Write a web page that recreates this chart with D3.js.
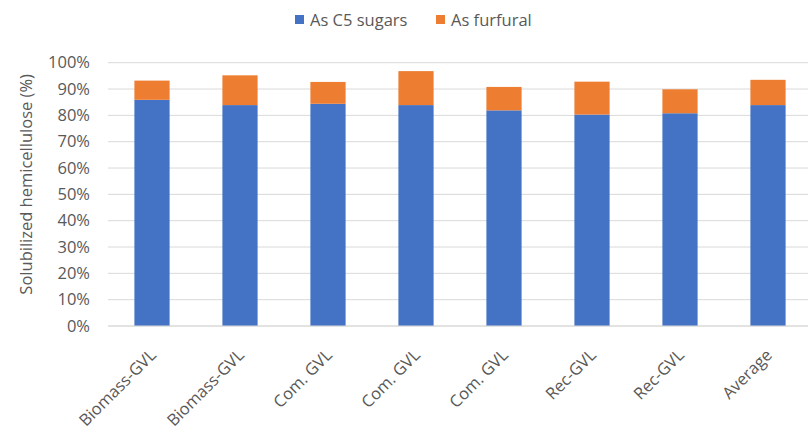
<!DOCTYPE html>
<html>
<head>
<meta charset="utf-8">
<script src="https://cdn.jsdelivr.net/npm/d3@7"></script>
<style>
  html, body { margin: 0; padding: 0; background: #fff; }
  text { font-family: "Open Sans", "Noto Sans", sans-serif; }
</style>
</head>
<body>
<svg id="chart" width="808" height="434"></svg>
<script>
const categories = ["Biomass-GVL", "Biomass-GVL", "Com. GVL", "Com. GVL", "Com. GVL", "Rec-GVL", "Rec-GVL", "Average"];
const c5Sugars = [85.9, 83.9, 84.4, 83.9, 81.9, 80.3, 80.8, 83.9];
const furfural = [7.3, 11.3, 8.3, 12.9, 8.9, 12.5, 9.1, 9.6];
const yTicks = [0, 10, 20, 30, 40, 50, 60, 70, 80, 90, 100];
const seriesNames = ["As C5 sugars", "As furfural"];
const colors = ["#4472C4", "#ED7D31"];

const svg = d3.select("#chart");
const margin = { left: 108, top: 62.7 };
const W = 808;
const plotBottom = 326;

const x = d3.scaleBand()
  .domain(d3.range(categories.length))
  .range([margin.left, margin.left + 88 * categories.length])
  .padding(0);

const y = d3.scaleLinear().domain([0, 100]).range([plotBottom, margin.top]);

// gridlines
svg.append("g").selectAll("line").data(yTicks).join("line")
  .attr("x1", margin.left).attr("x2", W)
  .attr("y1", d => y(d)).attr("y2", d => y(d))
  .attr("stroke", "#D9D9D9").attr("stroke-width", 1);

// y axis labels
const yAxis = d3.axisLeft(y).tickValues(yTicks).tickFormat(d => d + "%").tickSize(0).tickPadding(0);
const gy = svg.append("g").attr("transform", `translate(90,0)`).call(yAxis);
gy.select(".domain").remove();
gy.selectAll("text").attr("fill", "#595959").style("font-size", "16.5px").style("font-family", '"Open Sans", sans-serif');

// stacked data
const data = categories.map((c, i) => ({ i, c5: c5Sugars[i], furf: furfural[i] }));
const stack = d3.stack().keys(["c5", "furf"]);
const stacked = stack(data);

const barW = x.bandwidth() * 0.4;
svg.append("g").selectAll("g").data(stacked).join("g")
  .attr("fill", (d, k) => colors[k])
  .selectAll("rect").data(d => d).join("rect")
  .attr("x", d => x(d.data.i) + (x.bandwidth() - barW) / 2)
  .attr("width", barW)
  .attr("y", d => y(d[1]))
  .attr("height", d => y(d[0]) - y(d[1]));

// baseline
svg.append("line").attr("x1", margin.left).attr("x2", W)
  .attr("y1", plotBottom).attr("y2", plotBottom)
  .attr("stroke", "#D9D9D9").attr("stroke-width", 1);

// x labels
const xl = svg.append("g");
categories.forEach((c, i) => {
  const cx = x(i) + x.bandwidth() / 2;
  xl.append("text")
    .attr("transform", `translate(${cx + 1},${352}) rotate(-45)`)
    .attr("text-anchor", "end")
    .attr("dy", "0.35em")
    .attr("fill", "#595959")
    .style("font-size", "16.5px")
    .text(c);
});

// y axis title
svg.append("text")
  .attr("transform", `translate(32,${(y(0) + y(100)) / 2 - 10}) rotate(-90)`)
  .attr("text-anchor", "middle")
  .attr("fill", "#595959")
  .style("font-size", "16.5px")
  .text("Solubilized hemicellulose (%)");

// legend
const legendItems = [
  { name: seriesNames[0], color: colors[0], x: 295 },
  { name: seriesNames[1], color: colors[1], x: 436 }
];
const lg = svg.append("g");
legendItems.forEach(it => {
  lg.append("rect").attr("x", it.x).attr("y", 15).attr("width", 9).attr("height", 9).attr("fill", it.color);
  lg.append("text").attr("x", it.x + 15).attr("y", 20).attr("dy", "0.35em")
    .attr("fill", "#595959").style("font-size", "16.5px").text(it.name);
});
</script>
</body>
</html>
